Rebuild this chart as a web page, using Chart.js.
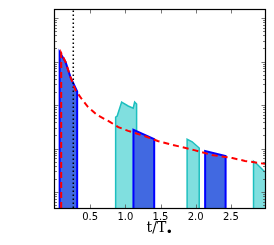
<!DOCTYPE html>
<html>
<head>
<meta charset="utf-8">
<script src="https://cdn.jsdelivr.net/npm/chart.js@4.4.0/dist/chart.umd.min.js"></script>
<style>
  html, body { margin: 0; padding: 0; background: #fff; }
</style>
</head>
<body>
<canvas id="chart" width="274" height="245"></canvas>
<script>
// axis ranges (time in units of T_bullet, log y without labels)
const xMin = 0, xMax = 2.985;
const yMin = 0.43, yMax = 15300;
const xTicks = [0.5, 1.0, 1.5, 2.0, 2.5];
const tMark = 0.26; // dotted vertical line

// red dashed model curve
const modelT = [0.088, 0.088, 0.15, 0.22, 0.29, 0.39, 0.47, 0.6, 0.78, 0.9, 1.04, 1.27, 1.46, 1.65, 1.98, 2.23, 2.52, 2.7, 2.93, 2.985];
const modelV = [yMin, 1570, 974, 440, 221, 130, 90, 59, 41, 31, 25.5, 19.4, 14.9, 12.4, 9.2, 7.1, 6.05, 5.2, 4.6, 4.5];

// blue episodes
const blue1T = [0.066, 0.066, 0.15, 0.22, 0.315, 0.315];
const blue1V = [yMin, 1650, 974, 440, 205, yMin];
const blue2T = [1.115, 1.115, 1.41, 1.41];
const blue2V = [yMin, 27, 16.5, yMin];
const blue3T = [2.134, 2.134, 2.425, 2.425];
const blue3V = [yMin, 8.8, 6.7, yMin];

// cyan episodes
const cyan1T = [0.862, 0.862, 0.884, 0.947, 1.04, 1.111, 1.132, 1.16, 1.16];
const cyan1V = [yMin, 53, 56, 117, 95, 85, 117, 105, yMin];
const cyan2T = [1.878, 1.878, 1.95, 2.05, 2.05];
const cyan2V = [yMin, 16.3, 14.3, 10.3, yMin];
const cyan3T = [2.822, 2.822, 2.86, 2.985, 3.0, 3.0];
const cyan3V = [yMin, 5.1, 4.6, 2.9, 2.8, yMin];

const pts = (T, V) => T.map((t, i) => ({ x: t, y: V[i] }));

const blueStyle = { borderColor: '#0000ff', backgroundColor: '#4169e1', borderWidth: 2, fill: 'start' };
const cyanStyle = { borderColor: '#1dbfbf', backgroundColor: '#80dfdf', borderWidth: 1.5, fill: 'start' };

// inward ticks on all four sides + frame + axis title
const framePlugin = {
  id: 'frame',
  afterDatasetsDraw(chart) {
    const { ctx, chartArea: a, scales } = chart;
    ctx.save();
    ctx.strokeStyle = '#555';
    ctx.lineWidth = 0.8;
    scales.y.ticks.forEach(tk => {
      const y = Math.round(scales.y.getPixelForValue(tk.value)) + 0.5;
      const len = tk.major ? 3.5 : 2;
      ctx.beginPath();
      ctx.moveTo(a.left, y); ctx.lineTo(a.left + len, y);
      ctx.moveTo(a.right, y); ctx.lineTo(a.right - len, y);
      ctx.stroke();
    });
    scales.x.ticks.forEach(tk => {
      const x = Math.round(scales.x.getPixelForValue(tk.value)) + 0.5;
      ctx.beginPath();
      ctx.moveTo(x, a.bottom); ctx.lineTo(x, a.bottom - 3.5);
      ctx.moveTo(x, a.top); ctx.lineTo(x, a.top + 3.5);
      ctx.stroke();
    });
    ctx.strokeStyle = '#000';
    ctx.lineWidth = 1.2;
    ctx.strokeRect(Math.round(a.left) - 0.5, Math.round(a.top) - 0.5, Math.round(a.right - a.left) + 1, Math.round(a.bottom - a.top) + 1);
    ctx.restore();
  },
  afterDraw(chart) {
    const { ctx, chartArea: a } = chart;
    ctx.save();
    ctx.fillStyle = '#000';
    ctx.textBaseline = 'alphabetic';
    ctx.font = '14px "DejaVu Serif"';
    const main = 't/T';
    const w = ctx.measureText(main).width;
    ctx.font = '12px "DejaVu Sans"';
    const wb = ctx.measureText('\u2022').width;
    const x0 = (a.left + a.right) / 2 - (w + wb) / 2;
    ctx.font = '14px "DejaVu Serif"';
    ctx.fillText(main, x0, 232);
    ctx.font = '12px "DejaVu Sans"';
    ctx.fillText('\u2022', x0 + w - 0.5, 236);
    ctx.restore();
  }
};

new Chart(document.getElementById('chart').getContext('2d'), {
  type: 'line',
  data: {
    datasets: [
      { data: pts(modelT, modelV), borderColor: '#ff0000', borderWidth: 2, borderDash: [6, 4], fill: false },
      { data: [{ x: tMark, y: yMin }, { x: tMark, y: yMax }], borderColor: '#000', borderWidth: 1.5, borderDash: [1.5, 2.5], fill: false },
      { data: pts(blue1T, blue1V), ...blueStyle },
      { data: pts(blue2T, blue2V), ...blueStyle },
      { data: pts(blue3T, blue3V), ...blueStyle },
      { data: pts(cyan1T, cyan1V), ...cyanStyle },
      { data: pts(cyan2T, cyan2V), ...cyanStyle },
      { data: pts(cyan3T, cyan3V), ...cyanStyle, clip: 0 },
    ]
  },
  options: {
    responsive: false,
    animation: false,
    layout: { padding: { top: 10, right: 9, left: 0, bottom: 0 } },
    elements: { point: { radius: 0 }, line: { tension: 0 } },
    scales: {
      x: {
        type: 'linear', min: xMin, max: xMax,
        afterBuildTicks: s => { s.ticks = xTicks.map(v => ({ value: v })); },
        afterFit: s => { s.height = 37; },
        grid: { display: false, drawTicks: false },
        border: { display: false },
        ticks: { padding: 3, color: '#000', font: { family: 'DejaVu Sans', size: 10 }, callback: v => v.toFixed(1), maxRotation: 0 }
      },
      y: {
        type: 'logarithmic', min: yMin, max: yMax,
        afterBuildTicks: s => {
          const t = [];
          for (let e = -1; e <= 4; e++) {
            for (let m = 1; m <= 9; m++) {
              const v = m * Math.pow(10, e);
              if (v >= yMin && v <= yMax) t.push({ value: v, major: m === 1 });
            }
          }
          s.ticks = t;
        },
        afterFit: s => { s.width = 55; },
        grid: { display: false, drawTicks: false },
        border: { display: false },
        ticks: { display: false, callback: () => '' }
      }
    },
    plugins: { legend: { display: false }, tooltip: { enabled: false } }
  },
  plugins: [framePlugin]
});
</script>
</body>
</html>
